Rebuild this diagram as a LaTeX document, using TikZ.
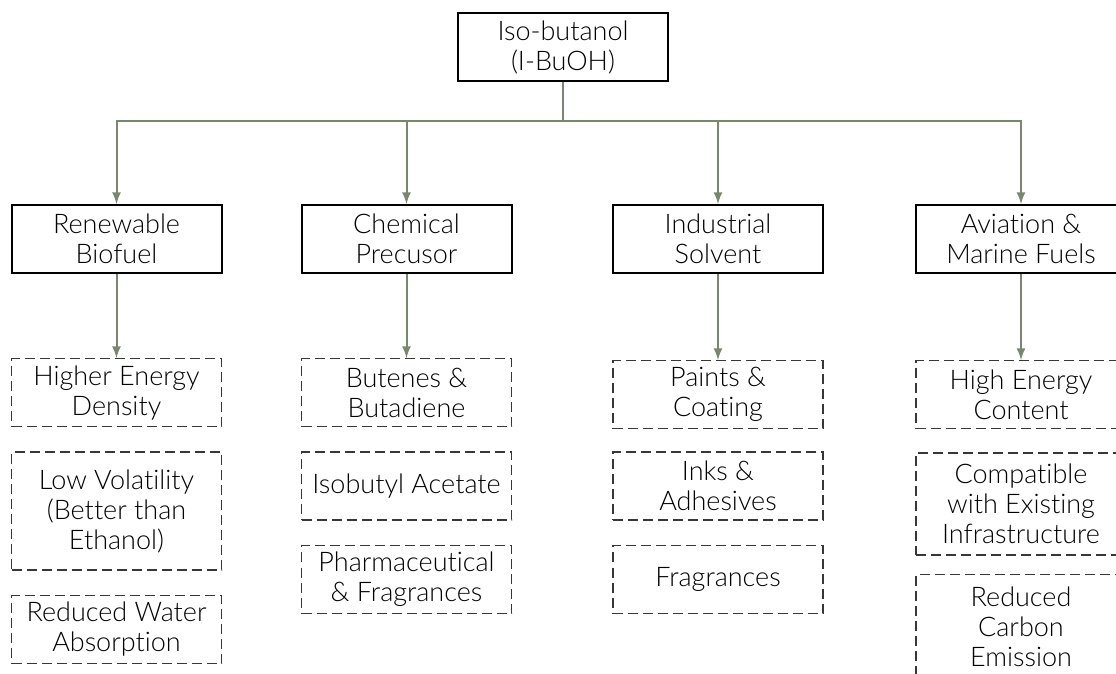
\documentclass[tikz,border=0pt]{standalone}
\usepackage{fontspec}
\setmainfont{Lato}[UprightFont=* Light, Ligatures=NoCommon]
\usetikzlibrary{positioning, arrows}
\definecolor{linkgreen}{RGB}{122,134,110}
\definecolor{boxgray}{RGB}{55,55,55}
\tikzstyle{mainbox} = [
    rectangle,
    minimum width=105pt,
    minimum height=34pt,
    align=center,
    draw=black,
    line width=1pt
]
\tikzstyle{usebox} = [
    rectangle,
    dash pattern=on 5pt off 2.5pt,
    minimum width=105pt,
    minimum height=34pt,
    align=center,
    draw=boxgray,
    line width=0.7pt
]
\tikzstyle{arrow} = [line width=1pt, draw=linkgreen, ->, >=latex]
\begin{document}
\begin{tikzpicture}[x=0.5pt, y=-0.5pt, font=\fontsize{13.5}{15}\selectfont]

\clip (0,0) rectangle (1116,674);

\node (iso) [mainbox] at (563,47) {Iso-butanol\\(I-BuOH)};

\node (bio) [mainbox] at (116.5,239) {Renewable\\Biofuel};
\node (chem) [mainbox] at (406.5,239) {Chemical\\Precusor};
\node (solv) [mainbox] at (718,239) {Industrial\\Solvent};
\node (fuel) [mainbox] at (1021,239) {Aviation \&\\Marine Fuels};

% renewable biofuel
\node (bio1) [usebox, below=42pt of bio] {Higher Energy\\Density};
\node (bio2) [usebox, minimum height=59pt, below=12pt of bio1]
{Low Volatility\\(Better than\\Ethanol)};
\node (bio3) [usebox, below=12pt of bio2] {Reduced Water\\Absorption};

% chemical precursor
\node (chem1) [usebox, below=42pt of chem] {Butenes \&\\Butadiene};
\node (chem2) [usebox, below=12pt of chem1] {Isobutyl Acetate};
\node (chem3) [usebox, below=12pt of chem2] {Pharmaceutical\\\& Fragrances};

% industrial solvent
\node (solv1) [usebox, below=43pt of solv] {Paints \&\\Coating};
\node (solv2) [usebox, below=11pt of solv1] {Inks \&\\Adhesives};
\node (solv3) [usebox, below=12pt of solv2] {Fragrances};

% aviation and marine
\node (fuel1) [usebox, below=43pt of fuel] {High Energy\\Content};
\node (fuel2) [usebox, minimum height=51pt, below=11.5pt of fuel1]
{Compatible\\with Existing\\Infrastructure};
\node (fuel3) [usebox, minimum height=52pt, below=9pt of fuel2]
{Reduced\\Carbon\\Emission};

\coordinate (bus) at (563,121);

\draw [arrow] (iso) -- (bus) -| (bio);
\draw [arrow] (iso) -- (bus) -| (chem);
\draw [arrow] (iso) -- (bus) -| (solv);
\draw [arrow] (iso) -- (bus) -| (fuel);

\draw [arrow] (bio) -- (bio1);
\draw [arrow] (chem) -- (chem1);
\draw [arrow] (solv) -- (solv1);
\draw [arrow] (fuel) -- (fuel1);

\end{tikzpicture}
\end{document}
